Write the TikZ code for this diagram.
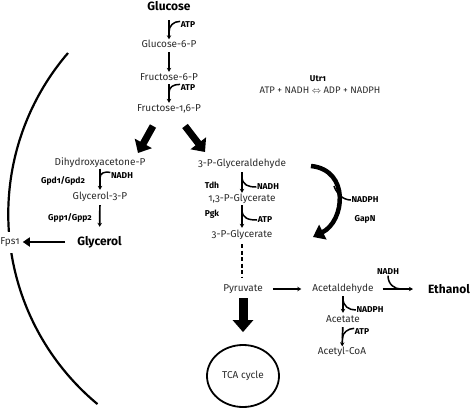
\documentclass[tikz,border=0pt]{standalone}
\usepackage{fontspec}
\setmainfont{Fira Sans}[Numbers=OldStyle]
\usepackage{tikz}
\usetikzlibrary{calc,arrows.meta,shapes.geometric}
\usepackage{xcolor}
\definecolor{pInk}{HTML}{2B2B2B}

\begin{document}
\begin{tikzpicture}[x=1pt,y=-1pt]
    \pgfmathsetmacro{\r}{247}	%radius of the cell wall

    \tikzset{
        met/.style={font=\fontsize{10}{11}\selectfont, text=pInk, inner sep=1pt, text height=7pt, text depth=2pt},
        key/.style={font=\fontsize{12}{13}\selectfont\bfseries, inner sep=1pt, text height=8.5pt, text depth=2.5pt},
        lbl/.style={font=\fontsize{8.5}{9}\selectfont\bfseries, inner sep=0.5pt},
        rxn/.style={line width=1.7pt, -{Stealth[length=4pt,width=4.5pt]}},
        hook/.style={line width=1.5pt},
        fat/.style={line width=7pt, -{Triangle[length=11pt,width=19pt]}},
        wall/.style={line width=2.2pt},
        tcaring/.style={ellipse, draw, line width=1.8pt, minimum width=72pt, minimum height=62pt},
    }
    \useasboundingbox (0,0) rectangle (472,408);

    % cell wall
    \draw[wall] (68,53) arc[start angle=220.7, end angle=129.7, radius=\r];

    % upper glycolysis
    \node[key] (glc) at (169,7) {Glucose};
    \node[met] (g6p) at (169,45) {Glucose-6-P};
    \node[met] (f6p) at (169,78) {Fructose-6-P};
    \node[met] (f16p) at (169,109) {Fructose-1,6-P};
    \node[lbl] (atpA) at (188,25) {ATP};
    \node[lbl] (atpB) at (188,88) {ATP};
    \draw[rxn, shorten <=6.5pt] (glc) -- (g6p);
    \draw[rxn, shorten <=1.5pt, shorten >=0.5pt] (g6p) -- (f6p);
    \draw[rxn, shorten <=0.5pt, shorten >=0.5pt] (f6p) -- (f16p);
    \draw[hook] (atpA.north west) .. controls +(-7,0) and +(0,-6) .. ($(glc)!.66!(g6p)$);
    \draw[hook] (atpB.north west) .. controls +(-7,0) and +(0,-6) .. ($(f6p)!.48!(f16p)$);

    \node[lbl] (utr) at (318,79) {Utr1};
    \node[met, font=\fontsize{9.5}{10}\selectfont] (eq) at (320,91) {ATP + NADH $\Leftrightarrow$ ADP + NADPH};

    % split of Fructose-1,6-P
    \coordinate (splitL) at (153,126);
    \coordinate (tipL) at (138,153);
    \coordinate (splitR) at (185,126);
    \coordinate (tipR) at (205,152);
    \draw[fat] (splitL) -- (tipL);
    \draw[fat] (splitR) -- (tipR);

    % glycerol branch
    \node[met] (dhap) at (100,163) {Dihydroxyacetone-P};
    \node[met] (g3p) at (100,197) {Glycerol-3-P};
    \node[key] (glyc) at (99.5,242) {Glycerol};
    \node[met, fill=white, inner xsep=1pt, inner ysep=6pt] (fps) at (10,242) {Fps1};
    \node[lbl] (nadhA) at (122,176) {NADH};
    \node[lbl] (gpd) at (63,181) {Gpd1/Gpd2};
    \node[lbl] (gpp) at (70,218) {Gpp1/Gpp2};
    \draw[rxn, shorten >=1.5pt] (dhap) -- (g3p);
    \draw[rxn, shorten <=2.5pt, shorten >=8.5pt] (g3p) -- (glyc);
    \draw[hook] (nadhA.north west) .. controls +(-6,-1) and +(0,-5) .. ($(dhap)!.44!(g3p)$);
    \draw[line width=2.8pt, -{Triangle[length=7pt,width=9pt]}, shorten <=11pt, shorten >=2pt] (glyc) -- (fps);

    % lower glycolysis
    \node[met] (gap) at (242,164) {3-P-Glyceraldehyde};
    \node[met] (bpg) at (242,199) {1,3-P-Glycerate};
    \node[met] (pg) at (242,235) {3-P-Glycerate};
    \node[met] (pyr) at (243,289) {Pyruvate};
    \node[lbl] (tdh) at (212,185) {Tdh};
    \node[lbl] (nadhB) at (268,187) {NADH};
    \node[lbl] (pgk) at (212,214) {Pgk};
    \node[lbl] (atpC) at (265,220) {ATP};
    \draw[rxn, shorten <=2.5pt, shorten >=0.5pt] (gap) -- (bpg);
    \draw[rxn, shorten <=0.5pt, shorten >=1.5pt] (bpg) -- (pg);
    \draw[hook] ($(gap)!.35!(bpg)$) .. controls +(0,9) and +(-8,0) .. (nadhB.west);
    \draw[hook] ($(bpg)!.3!(pg)$) .. controls +(0,9) and +(-8,0) .. (atpC.west);
    \draw[line width=2.6pt, dash pattern=on 4pt off 2.5pt, shorten <=3.5pt, shorten >=6.5pt] (pg.south) -- (pg.south |- pyr.north);

    % GapN bypass
    \coordinate (gapnIn) at (311,166);
    \coordinate (gapnOut) at (313,237);
    \coordinate (gapnJoin) at (334,186);
    \node[lbl] (nadphA) at (365,200) {NADPH};
    \node[lbl] (gapn) at (365,219) {GapN};
    \draw[line width=4.5pt, -{Triangle[length=11pt,width=16pt]}] (gapnIn) .. controls (350,170) and (345,221) .. (gapnOut);
    \draw[hook] (nadphA.west) .. controls +(-9,0) and +(2,6) .. (gapnJoin);

    % pyruvate
    \node[met] (acald) at (343,289) {Acetaldehyde};
    \node[key] (etoh) at (449,290) {Ethanol};
    \node[met] (ac) at (343,320) {Acetate};
    \node[met] (accoa) at (342,352) {Acetyl-CoA};
    \node[lbl] (nadhC) at (388,272) {NADH};
    \node[lbl] (nadphB) at (370,310) {NADPH};
    \node[lbl] (atpD) at (362,332) {ATP};
    \node[met, tcaring] (tca) at (243,376) {TCA cycle};
    \draw[rxn, line width=2.2pt, shorten <=9pt, shorten >=10pt] (pyr) -- (acald);
    \draw[rxn, line width=2.2pt, shorten <=8pt, shorten >=14pt] (acald.east) -- (acald.east -| etoh.west);
    \draw[hook] (nadhC.south) .. controls +(0,9) and +(-6,0) .. ($(acald.east)!.5!(acald.east -| etoh.west)$);
    \draw[rxn, shorten <=1.5pt, shorten >=1.5pt] (acald) -- (ac);
    \draw[rxn, shorten <=1.5pt] (ac) -- (accoa);
    \draw[hook] ($(acald)!.3!(ac)$) .. controls +(0,8) and +(-7,0) .. (nadphB.west);
    \draw[hook] (atpD.north west) .. controls +(-6,0) and +(0,-5) .. ($(ac)!.56!(accoa)$);
    \draw[line width=9pt, -{Triangle[length=12pt,width=20pt]}, shorten <=3.5pt, shorten >=12pt] (pyr) -- (tca);
\end{tikzpicture}
\end{document}
